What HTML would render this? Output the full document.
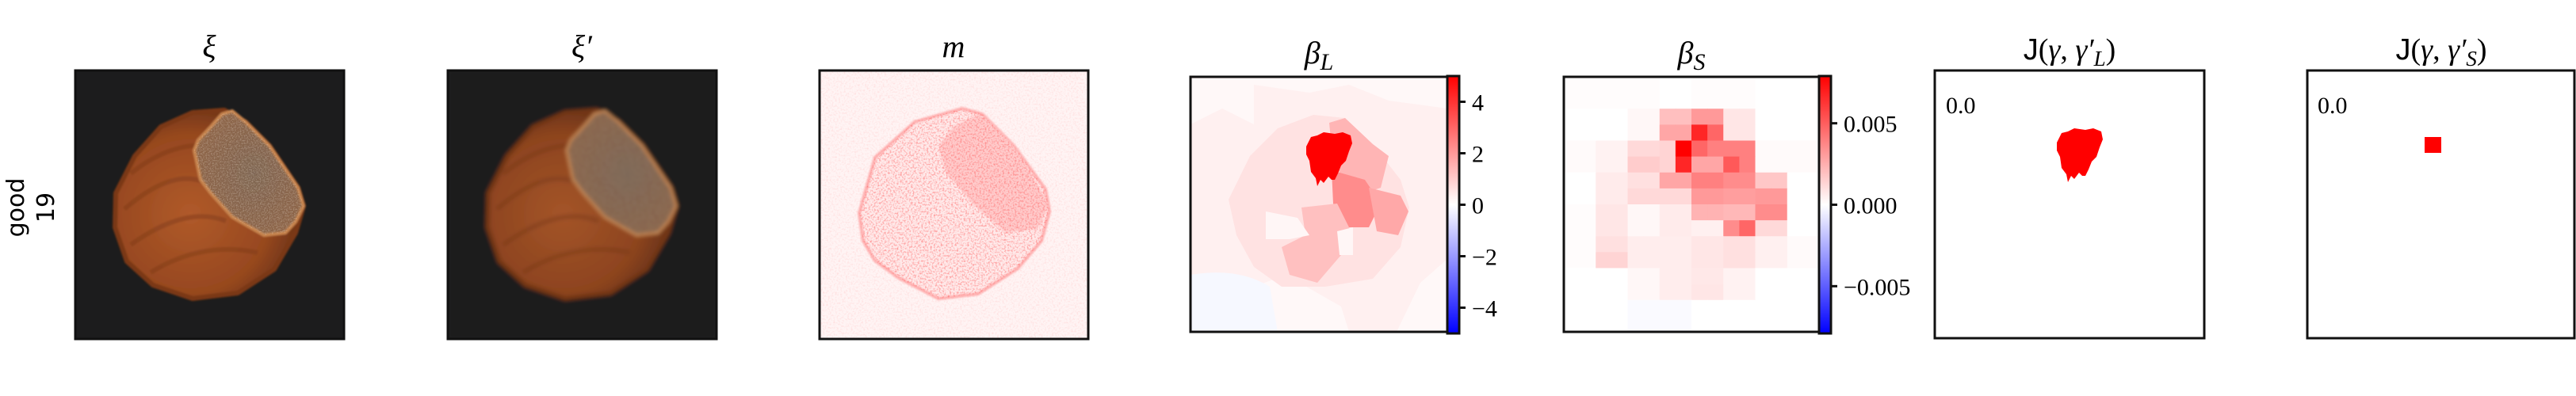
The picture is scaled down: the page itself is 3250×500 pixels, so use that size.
<!DOCTYPE html>
<html><head><meta charset="utf-8">
<style>
html,body{margin:0;padding:0;background:#fff;}
svg{display:block;}
.t{font-family:"Liberation Serif",serif;font-style:italic;font-size:40px;}
.tk{font-family:"Liberation Serif",serif;font-size:30px;}
</style></head>
<body>
<svg id="fig" width="3250" height="500" viewBox="0 0 3250 500" xmlns="http://www.w3.org/2000/svg">
<defs>
<linearGradient id="bwr" x1="0" y1="1" x2="0" y2="0">
<stop offset="0" stop-color="#0000ff"/><stop offset="0.5" stop-color="#ffffff"/><stop offset="1" stop-color="#ff0000"/>
</linearGradient>
<radialGradient id="nut" cx="0.4" cy="0.55" r="0.6">
<stop offset="0" stop-color="#b05a2a"/><stop offset="0.7" stop-color="#97481f"/><stop offset="1" stop-color="#6a3216"/>
</radialGradient>
<radialGradient id="cap" cx="0.55" cy="0.5" r="0.6">
<stop offset="0" stop-color="#7e6552"/><stop offset="1" stop-color="#8e6444"/>
</radialGradient>
<filter id="blur"><feGaussianBlur stdDeviation="2.2"/></filter>
<filter id="soft"><feGaussianBlur stdDeviation="1"/></filter>
<filter id="noise" x="0" y="0" width="1" height="1">
<feTurbulence type="fractalNoise" baseFrequency="0.45" numOctaves="2" seed="3"/>
<feColorMatrix values="0 0 0 0 1  0 0 0 0 0.1  0 0 0 0 0.1  0 0 0 2.2 -1.0"/>
</filter>
<filter id="capnoise" x="0" y="0" width="1" height="1">
<feTurbulence type="fractalNoise" baseFrequency="0.6" numOctaves="2" seed="7"/>
<feColorMatrix values="0 0 0 0 0.8  0 0 0 0 0.7  0 0 0 0 0.6  0 0 0 1.5 -0.6"/>
</filter>
<clipPath id="capclip"><polygon points="150,101 155,88 171,71 185,55 198,51 215,65 245,95 281,148 288,171 278,191 265,205 238,208 198,185 171,155 158,138"/></clipPath>
<clipPath id="ringclip"><polygon points="50,180 70,110 120,65 180,48 205,55 245,95 285,150 290,178 280,215 250,250 200,282 150,288 100,262 70,240 55,215"/></clipPath>
<g id="nutshape">
<rect x="0" y="0" width="339" height="339" fill="#1c1c1d"/>
<g filter="url(#soft)">
<polygon points="51,155 75,108 108,71 148,53 188,50 215,65 245,95 281,148 288,171 278,205 251,251 205,281 148,288 98,271 65,241 50,198" fill="url(#nut)" stroke="#7a3818" stroke-width="6" stroke-linejoin="round"/>
<g stroke="#7e3a1a" stroke-width="6" fill="none" opacity="0.45">
<path d="M70,130 Q120,90 170,95"/><path d="M62,175 Q120,125 160,140"/><path d="M70,220 Q140,170 190,190"/><path d="M95,255 Q160,215 230,230"/>
</g>
<polygon points="150,101 155,88 171,71 185,55 198,51 215,65 245,95 281,148 288,171 278,191 265,205 238,208 198,185 171,155 158,138" fill="url(#cap)" stroke="#c8844e" stroke-width="4" stroke-linejoin="round"/>
</g>
<rect width="339" height="339" filter="url(#capnoise)" clip-path="url(#capclip)" opacity="0.6"/>
</g>
<g id="blob">
<path d="M0,18 L6,6 L14,4 L22,0 L36,2 L46,0 L56,4 L58,14 L54,24 L50,36 L44,42 L40,52 L36,60 L32,60 L28,56 L22,64 L18,60 L14,68 L12,58 L6,50 L4,36 L0,28 Z" fill="#ff0000"/>
</g>
</defs>

<g transform="translate(30,262) rotate(-90)">
<text x="0" y="0" text-anchor="middle" font-family="'DejaVu Sans',sans-serif" font-size="30">good</text>
<text x="0" y="38" text-anchor="middle" font-family="'DejaVu Sans',sans-serif" font-size="30">19</text>
</g>

<g>
<text class="t" x="264" y="72" text-anchor="middle">ξ</text>
<g transform="translate(95,89)"><use href="#nutshape"/></g>
<rect x="95" y="89" width="339" height="339" fill="none" stroke="#111" stroke-width="3"/>
</g>

<g>
<text class="t" x="734" y="72" text-anchor="middle">ξ′</text>
<svg x="565" y="89" width="339" height="339"><rect width="339" height="339" fill="#1c1c1d"/><g filter="url(#blur)" opacity="0.92"><use href="#nutshape"/></g></svg>
<rect x="565" y="89" width="339" height="339" fill="none" stroke="#111" stroke-width="3"/>
</g>

<g>
<text class="t" x="1203" y="72" text-anchor="middle">m</text>
<svg x="1034" y="89" width="339" height="339">
<rect width="339" height="339" fill="#fff4f4"/>
<polygon points="50,180 70,110 120,65 180,48 205,55 245,95 285,150 290,178 280,215 250,250 200,282 150,288 100,262 70,240 55,215" fill="#ffeaea" stroke="#ffb0b0" stroke-width="4" stroke-linejoin="round" filter="url(#soft)"/>
<polygon points="150,95 170,70 200,55 215,63 250,100 290,170 275,200 235,205 195,170 160,130" fill="#ffc4c4" opacity="0.8" filter="url(#soft)"/>
<rect width="339" height="339" filter="url(#noise)" clip-path="url(#ringclip)" opacity="0.6"/>
<rect width="339" height="339" filter="url(#noise)" opacity="0.15"/>
</svg>
<rect x="1034" y="89" width="339" height="339" fill="none" stroke="#111" stroke-width="3"/>
</g>

<g>
<text class="t" x="1664" y="80" text-anchor="middle">β<tspan font-size="30" dy="8">L</tspan></text>
<svg x="1502" y="97" width="324" height="322">
<rect width="324" height="322" fill="#fff8f8"/>
<polygon points="0,60 40,40 80,60 80,10 150,20 200,10 250,30 324,40 324,230 290,260 260,322 200,322 190,290 120,250 40,280 0,260" fill="#fff0f0"/>
<path d="M0,250 Q60,240 100,265 L110,322 L0,322 Z" fill="#f6f8ff"/>
<polygon points="48,155 75,100 110,65 155,48 195,52 230,85 265,130 276,165 265,215 230,255 170,265 115,265 80,240 58,200" fill="#ffe2e2"/>
<polygon points="175,58 195,52 230,85 250,100 240,140 210,150 180,110" fill="#ffb5b5"/>
<polygon points="178,118 220,130 240,160 225,190 195,190 180,160" fill="#ff8c8c"/>
<polygon points="225,140 265,150 275,170 262,200 235,195" fill="#ffa8a8"/>
<polygon points="140,165 185,160 205,200 190,225 160,260 125,250 115,215 145,200" fill="#ffc0c0"/>
<polygon points="95,170 135,178 150,200 125,205 95,205" fill="#fff6f6"/>
<polygon points="185,195 205,190 205,225 188,225" fill="#fff6f6"/>
<g transform="translate(146,70)"><use href="#blob"/></g>
</svg>
<rect x="1502" y="97" width="324" height="322" fill="none" stroke="#111" stroke-width="3"/>
<rect x="1826" y="96" width="15" height="325" fill="url(#bwr)" stroke="#111" stroke-width="3"/>
<g id="cbL"></g>
</g>

<g>
<text class="t" x="2134" y="80" text-anchor="middle">β<tspan font-size="30" dy="8">S</tspan></text>
<g id="cellsS"></g>
<rect x="1973" y="97" width="322" height="322" fill="none" stroke="#111" stroke-width="3"/>
<rect x="2295" y="96" width="15" height="325" fill="url(#bwr)" stroke="#111" stroke-width="3"/>
<g id="cbS"></g>
</g>

<g>
<text x="2611" y="75" text-anchor="middle" font-family="'Liberation Serif',serif" font-size="38"><tspan font-family="'Liberation Sans',sans-serif">J</tspan>(<tspan font-style="italic">γ</tspan>, <tspan font-style="italic">γ′</tspan><tspan font-style="italic" font-size="27" dy="8">L</tspan><tspan dy="-8">)</tspan></text>
<rect x="2441" y="89" width="340" height="338" fill="#fff" stroke="#111" stroke-width="3"/>
<text class="tk" x="2455" y="143">0.0</text>
<g transform="translate(2595,162)"><use href="#blob"/></g>
</g>

<g>
<text x="3080" y="75" text-anchor="middle" font-family="'Liberation Serif',serif" font-size="38"><tspan font-family="'Liberation Sans',sans-serif">J</tspan>(<tspan font-style="italic">γ</tspan>, <tspan font-style="italic">γ′</tspan><tspan font-style="italic" font-size="27" dy="8">S</tspan><tspan dy="-8">)</tspan></text>
<rect x="2911" y="89" width="337" height="338" fill="#fff" stroke="#111" stroke-width="3"/>
<text class="tk" x="2924" y="143">0.0</text>
<rect x="3059" y="173" width="21" height="20" fill="#ff0000"/>
</g>
</svg>

<script>
const betaSRows = [
 [.01,.01,.01,.01,.01,.01,.0,.0,.01,.01,.01,.01,0,0,0,0],
 [.01,.01,.01,.01,.01,.01,.0,.0,.01,.01,.01,.01,0,0,0,0],
 [0,0,0,0,.03,.03,.25,.25,.4,.4,.1,.1,0,0,0,0],
 [0,0,0,0,.03,.03,.35,.35,.85,.6,.1,.1,0,0,0,0],
 [.02,.02,.05,.05,.15,.15,.17,1,.6,.5,.5,.5,.02,.02,.02,.02],
 [.02,.02,.05,.05,.2,.2,.17,.85,.35,.35,.65,.5,.02,.02,.02,.02],
 [0,0,.08,.08,.12,.12,.35,.35,.5,.5,.45,.45,.22,.22,0,0],
 [0,0,.08,.08,.15,.15,.15,.15,.4,.4,.38,.38,.4,.4,0,0],
 [.01,.01,.1,.1,.03,.03,.08,.08,.3,.3,.28,.28,.45,.45,0,0],
 [.01,.01,.1,.1,.03,.03,.08,.08,.06,.06,.45,.6,.15,.15,0,0],
 [.01,.01,.12,.12,.07,.07,.07,.07,.1,.1,.12,.12,.06,.06,.02,.02],
 [.01,.01,.17,.17,.07,.07,.07,.07,.1,.1,.12,.12,.06,.06,.02,.02],
 [0,0,0,0,.03,.03,.07,.07,.09,.09,.05,.05,0,0,0,0],
 [0,0,0,0,.03,.03,.07,.07,.1,.1,.05,.05,0,0,0,0],
 [0,0,0,0,-.02,-.02,-.02,-.02,0,0,0,0,0,0,0,0],
 [0,0,0,0,-.02,-.02,-.02,-.02,0,0,0,0,0,0,0,0]
];
const betaLTicks = [4,2,0,-2,-4];
const betaLTickLabels = ["4","2","0","\u22122","\u22124"];
const betaLRange = [-5,5];
const betaSTicks = [0.005,0,-0.005];
const betaSTickLabels = ["0.005","0.000","\u22120.005"];
const betaSRange = [-0.0079,0.0079];

const NS="http://www.w3.org/2000/svg";
function bwr(v){v=Math.max(-1,Math.min(1,v));
 if(v>=0){const c=Math.round(255*(1-v));return `rgb(255,${c},${c})`;}
 const c=Math.round(255*(1+v));return `rgb(${c},${c},255)`;}
const cellsS=document.getElementById('cellsS');
const x0=1973,y0=97,W=322,nR=betaSRows.length,nC=betaSRows[0].length;
betaSRows.forEach((row,r)=>row.forEach((v,c)=>{
 const e=document.createElementNS(NS,'rect');
 e.setAttribute('x',x0+c*W/nC);e.setAttribute('y',y0+r*W/nR);
 e.setAttribute('width',W/nC+0.5);e.setAttribute('height',W/nR+0.5);
 e.setAttribute('fill',bwr(v));
 
 
 cellsS.appendChild(e);
}));
function ticks(gid,vals,labels,range,x){
 const g=document.getElementById(gid);const top=96,bot=421;
 vals.forEach((v,i)=>{
  const y=bot-(v-range[0])/(range[1]-range[0])*(bot-top);
  const l=document.createElementNS(NS,'line');
  l.setAttribute('x1',x);l.setAttribute('x2',x+8);l.setAttribute('y1',y);l.setAttribute('y2',y);
  l.setAttribute('stroke','#111');l.setAttribute('stroke-width','3');
  
  
  g.appendChild(l);
  const t=document.createElementNS(NS,'text');
  t.setAttribute('x',x+16);t.setAttribute('y',y+11);t.setAttribute('class','tk');
  t.textContent=labels[i];
  
  
  g.appendChild(t);
 });
}
ticks('cbL',betaLTicks,betaLTickLabels,betaLRange,1841);
ticks('cbS',betaSTicks,betaSTickLabels,betaSRange,2310);
</script>
</body></html>
